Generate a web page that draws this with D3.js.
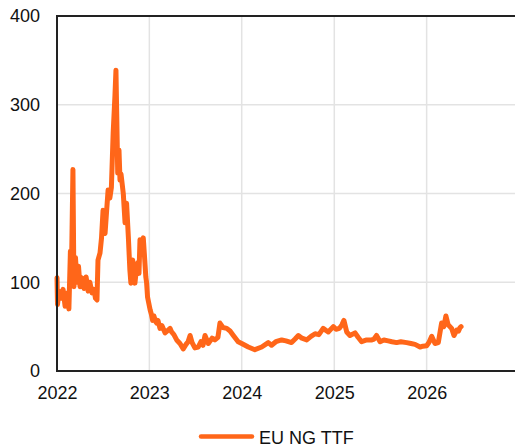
<!DOCTYPE html>
<html>
<head>
<meta charset="utf-8">
<script src="https://cdn.jsdelivr.net/npm/d3@7"></script>
<style>
  body { margin: 0; background: #fff; }
  svg { display: block; font-family: "Liberation Sans", Arial, sans-serif; }
</style>
</head>
<body>
<script>
// EU NG TTF price series
var dates = [
  '2022-01-01','2022-01-03','2022-01-09','2022-01-17','2022-01-25','2022-02-02','2022-02-10','2022-02-17',
  '2022-02-23','2022-02-27','2022-03-05','2022-03-09','2022-03-15','2022-03-21','2022-03-27','2022-04-02',
  '2022-04-10','2022-04-18','2022-04-26','2022-05-04','2022-05-11','2022-05-19','2022-05-27','2022-06-02',
  '2022-06-08','2022-06-12','2022-06-20','2022-06-26','2022-07-02','2022-07-06','2022-07-10','2022-07-16',
  '2022-07-22','2022-07-29','2022-08-04','2022-08-11','2022-08-18','2022-08-22','2022-08-25','2022-08-29',
  '2022-09-03','2022-09-07','2022-09-11','2022-09-20','2022-09-27','2022-10-03','2022-10-10','2022-10-16',
  '2022-10-20','2022-10-27','2022-11-01','2022-11-05','2022-11-11','2022-11-16','2022-11-21','2022-11-25',
  '2022-11-29','2022-12-04','2022-12-08','2022-12-12','2022-12-18','2022-12-21','2022-12-25',
  '2023-01-04','2023-01-09','2023-01-14','2023-01-19','2023-01-25','2023-01-30','2023-02-04','2023-02-12',
  '2023-02-20','2023-03-04','2023-03-12','2023-03-24','2023-03-30','2023-04-08','2023-04-19','2023-05-02',
  '2023-05-15','2023-05-26','2023-06-03','2023-06-11','2023-06-19','2023-06-30','2023-07-13','2023-07-24',
  '2023-08-01','2023-08-09','2023-08-22','2023-09-06','2023-09-17','2023-09-29','2023-10-07','2023-10-19',
  '2023-11-03','2023-11-16','2023-11-29','2023-12-18',
  '2024-01-01','2024-01-27','2024-02-22','2024-03-20','2024-04-15','2024-04-28','2024-05-15','2024-06-07',
  '2024-06-24','2024-07-16','2024-07-30','2024-08-12','2024-08-26','2024-09-14','2024-10-01','2024-10-17',
  '2024-11-01','2024-11-18','2024-12-08','2024-12-28',
  '2025-01-08','2025-01-21','2025-01-31','2025-02-08','2025-02-19','2025-03-04','2025-03-24','2025-04-05',
  '2025-04-19','2025-05-09','2025-05-29','2025-06-07','2025-06-17','2025-07-01','2025-07-16','2025-08-02',
  '2025-08-17','2025-09-04','2025-09-21','2025-10-14','2025-10-31','2025-11-16','2025-12-06','2025-12-17',
  '2026-01-01','2026-01-10','2026-01-21','2026-02-03','2026-02-16','2026-03-01','2026-03-10','2026-03-18',
  '2026-03-27','2026-04-10','2026-04-19','2026-04-30','2026-05-07','2026-05-13','2026-05-17'
];
var prices = [
  105, 75, 90, 82, 92, 73, 88, 70,
  135, 110, 227, 95, 128, 100, 118, 95,
  105, 93, 106, 90, 100, 88, 92, 82,
  80, 125, 133, 150, 181, 160, 155, 180,
  204, 195, 207, 268, 310, 339, 290, 223,
  249, 215, 222, 200, 167, 189, 151, 114,
  99, 125, 110, 99, 115, 122, 110, 148,
  138, 145, 150, 133, 106, 100, 83,
  69, 64, 57, 62, 56, 54, 57, 48,
  51, 43, 45, 48, 44, 41, 35, 31,
  25, 30, 33, 40, 32, 26, 27, 33,
  29, 40, 31, 37, 35, 38, 54, 49,
  48, 45, 40, 33,
  31, 27, 24, 27, 32, 29, 33, 35,
  34, 32, 36, 40, 37, 35, 39, 42,
  41, 48, 44, 50,
  47, 48, 52, 57, 44, 40, 43, 38,
  33, 35, 35, 36, 40, 33, 35, 34,
  33, 32, 33, 32, 31, 30, 27, 28,
  28.5, 32, 39, 31, 32, 54, 50, 62,
  52, 48, 40, 46, 45, 49, 50
];
var yTicks = [0, 100, 200, 300, 400];
var xTickYears = [2022, 2023, 2024, 2025, 2026];
var seriesName = 'EU NG TTF';

var width = 515, height = 447;
var margin = {top: 16, left: 57, bottom: 76};
var color = '#ff6619';
var ink = '#111';

var parse = d3.timeParse('%Y-%m-%d');
var data = dates.map(function(d, i) { return {date: parse(d), value: prices[i]}; });

var svg = d3.select('body').append('svg')
  .attr('width', width)
  .attr('height', height);

// plot runs past the right edge of the window, like the reference
var x = d3.scaleTime()
  .domain([new Date(2022, 0, 1), new Date(2027, 0, 1)])
  .range([margin.left, margin.left + 462]);

var y = d3.scaleLinear()
  .domain([0, 400])
  .range([height - margin.bottom, margin.top]);

var xTicks = xTickYears.map(function(yr) { return new Date(yr, 0, 1); });

// grid
svg.append('g')
  .selectAll('line')
  .data(yTicks.slice(1, -1))
  .enter().append('line')
  .attr('x1', margin.left).attr('x2', width + 10)
  .attr('y1', function(d) { return y(d); }).attr('y2', function(d) { return y(d); })
  .attr('stroke', '#e3e3e3').attr('stroke-width', 1.5);

svg.append('g')
  .selectAll('line')
  .data(xTicks.slice(1))
  .enter().append('line')
  .attr('x1', function(d) { return x(d); }).attr('x2', function(d) { return x(d); })
  .attr('y1', y(400)).attr('y2', y(0))
  .attr('stroke', '#e3e3e3').attr('stroke-width', 1.5);

// series
var line = d3.line()
  .x(function(d) { return x(d.date); })
  .y(function(d) { return y(d.value); });

svg.append('path')
  .datum(data)
  .attr('d', line)
  .attr('fill', 'none')
  .attr('stroke', color)
  .attr('stroke-width', 5)
  .attr('stroke-linejoin', 'round')
  .attr('stroke-linecap', 'round');

// frame
svg.append('line')
  .attr('x1', margin.left).attr('x2', width + 10)
  .attr('y1', y(400)).attr('y2', y(400))
  .attr('stroke', '#222').attr('stroke-width', 2);
svg.append('line')
  .attr('x1', margin.left).attr('x2', margin.left)
  .attr('y1', y(400) - 1).attr('y2', y(0) + 1)
  .attr('stroke', '#222').attr('stroke-width', 2);
svg.append('line')
  .attr('x1', margin.left - 1).attr('x2', width + 10)
  .attr('y1', y(0)).attr('y2', y(0))
  .attr('stroke', '#222').attr('stroke-width', 2);

// axes (labels only)
var yAxis = svg.append('g')
  .attr('transform', 'translate(' + (margin.left - 17) + ',0)')
  .call(d3.axisLeft(y).tickValues(yTicks).tickSize(0).tickPadding(0));
yAxis.select('.domain').remove();
yAxis.selectAll('text')
  .attr('font-size', 18).attr('fill', ink)
  .attr('font-family', '"Liberation Sans", Arial, sans-serif');

var xAxis = svg.append('g')
  .attr('transform', 'translate(0,' + (y(0) + 10) + ')')
  .call(d3.axisBottom(x).tickValues(xTicks).tickFormat(d3.timeFormat('%Y')).tickSize(0).tickPadding(5));
xAxis.select('.domain').remove();
xAxis.selectAll('text')
  .attr('font-size', 18).attr('fill', ink)
  .attr('font-family', '"Liberation Sans", Arial, sans-serif');

// legend
var legend = svg.append('g').attr('transform', 'translate(200,436.5)');
legend.append('line')
  .attr('x1', 1).attr('x2', 52)
  .attr('stroke', color).attr('stroke-width', 4.5).attr('stroke-linecap', 'round');
legend.append('text')
  .attr('x', 59).attr('y', 7)
  .attr('font-size', 18).attr('fill', ink)
  .text(seriesName);
</script>
</body>
</html>
